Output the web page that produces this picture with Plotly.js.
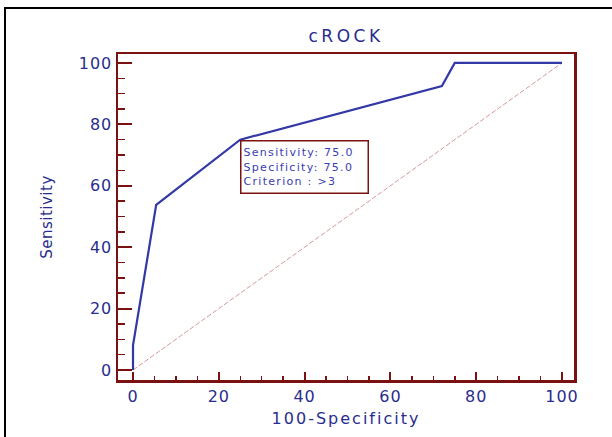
<!DOCTYPE html>
<html>
<head>
<meta charset="utf-8">
<script src="https://cdn.plot.ly/plotly-3.0.1.min.js"></script>
<style>
  html, body { margin: 0; padding: 0; background: #fff; }
  #wrap { position: relative; width: 612px; height: 437px; overflow: hidden; }
  #chart { position: absolute; left: 0; top: 0; width: 612px; height: 437px; }
  #frame { position: absolute; left: 4px; top: 7px; width: 700px; height: 500px;
           border-left: 2.5px solid #000; border-top: 2.5px solid #000; pointer-events: none; }
  #chart .gtitle { letter-spacing: 3.5px; }
  #chart .xtitle { letter-spacing: 2px; }
  #chart .ytitle { letter-spacing: 0.5px; }
  #chart .xtick text, #chart .ytick text { letter-spacing: 1px; }
  #chart .annotation-text { letter-spacing: 1.3px; }
</style>
</head>
<body>
<div id="wrap">
  <div id="chart"></div>
  <div id="frame"></div>
</div>
<script>
// ROC curve data (100-Specificity, Sensitivity)
const fpr = [0, 0, 5.4, 25, 72, 75, 100];
const tpr = [0, 8, 53.8, 75, 92.5, 100, 100];
// Reference diagonal
const diagX = [0, 100];
const diagY = [0, 100];
const titleText = "cROCK";
const xLabel = "100-Specificity";
const yLabel = "Sensitivity";
const tickVals = [0, 20, 40, 60, 80, 100];
const criterionLines = ["Sensitivity: 75.0", "Specificity: 75.0", "Criterion : >3"];
const criterionPoint = [25, 75];

const axisColor = "#7b1212";
const textBlue = "#2a2d8e";
const fontFam = "DejaVu Sans, Arial, sans-serif";

const traces = [
  {
    x: diagX, y: diagY, mode: "lines", type: "scatter",
    line: { color: "#d39a9a", width: 1, dash: "5px,2px" },
    hoverinfo: "skip"
  },
  {
    x: fpr, y: tpr, mode: "lines", type: "scatter",
    line: { color: "#3338a6", width: 2.2 }
  }
];

const axisCommon = {
  showgrid: false, zeroline: false,
  showline: true, linecolor: axisColor, linewidth: 2.5, mirror: true,
  ticks: "inside", tickcolor: axisColor, tickwidth: 2,
  tickvals: tickVals,
  tickfont: { family: fontFam, size: 16, color: textBlue },
  minor: { ticks: "inside", dtick: 5, tickcolor: axisColor, tickwidth: 1.5, showgrid: false }
};

const layout = {
  width: 612, height: 437,
  margin: { l: 118, r: 38, t: 54, b: 57 },
  paper_bgcolor: "rgba(0,0,0,0)",
  plot_bgcolor: "#fff",
  showlegend: false,
  title: { text: titleText, font: { family: fontFam, size: 17, color: textBlue },
           xref: "paper", x: 0.5, xanchor: "center", yref: "container", y: 1 - 36/437, yanchor: "middle" },
  xaxis: Object.assign({}, axisCommon, {
    range: [-3.5, 102.8], ticklen: 8,
    minor: Object.assign({}, axisCommon.minor, { ticklen: 4 }),
    title: { text: xLabel, font: { family: fontFam, size: 16, color: textBlue }, standoff: 8 }
  }),
  yaxis: Object.assign({}, axisCommon, {
    range: [-3.26, 102.9], ticklen: 14,
    minor: Object.assign({}, axisCommon.minor, { ticklen: 7 }),
    title: { text: yLabel, font: { family: fontFam, size: 15, color: textBlue }, standoff: 26 }
  }),
  annotations: [{
    x: criterionPoint[0], y: criterionPoint[1], xref: "x", yref: "y",
    xanchor: "left", yanchor: "top", showarrow: false,
    text: criterionLines.join("<br>"), align: "left",
    font: { family: fontFam, size: 11, color: "#3a3db0" },
    bgcolor: "#fff", bordercolor: axisColor, borderwidth: 1.5, borderpad: 2,
    width: 122, height: 47
  }]
};

Plotly.newPlot("chart", traces, layout, { displayModeBar: false, staticPlot: true });
</script>
</body>
</html>
